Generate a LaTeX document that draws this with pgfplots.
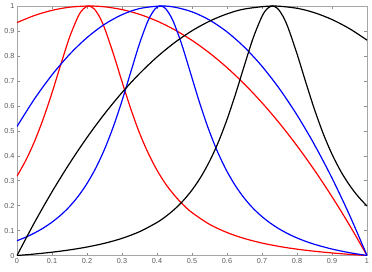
\documentclass[border=0pt]{standalone}
\usepackage{fontspec}
\setmainfont{Liberation Sans}
\usepackage{pgfplots}
\pgfplotsset{compat=1.18}
\begin{document}
\begin{tikzpicture}
\begin{axis}[
  name=ax,
  scale only axis,
  width=350bp, height=249.5bp,
  xmin=0, xmax=1, ymin=0, ymax=1,
  xtick={0,0.1,...,1}, ytick={0,0.1,...,1},
  tick align=inside,
  major tick length=3bp,
  axis line style={black!35, line width=0.5pt},
  every tick/.style={black!45, line width=0.4pt},
  tick label style={font=\fontsize{7.3}{8}\selectfont, text=black!65},
  /pgf/number format/assume math mode=true,
  xticklabel style={yshift=1bp},
  yticklabel style={xshift=1bp},
  clip=true,
  every axis plot/.append style={line width=1.2pt, smooth},
]
% red wide
\addplot[color=red] coordinates {
(0,0.9335)(0.05,0.962)(0.1,0.9826)(0.15,0.9952)(0.205,1)(0.25,0.9968)(0.3,0.9857)(0.35,0.9667)(0.4,0.9398)(0.45,0.905)(0.5,0.8623)(0.55,0.8117)(0.6,0.7531)(0.65,0.6867)(0.7,0.6123)(0.75,0.53)(0.8,0.4398)(0.85,0.3417)(0.9,0.2357)(0.95,0.1218)(1,0)};
% red narrow
\addplot[color=red] coordinates {
(0,0.318)(0.025,0.381)(0.05,0.457)(0.075,0.548)(0.1,0.652)(0.125,0.765)(0.15,0.874)(0.175,0.959)(0.19,0.989)(0.205,1)(0.22,0.989)(0.235,0.959)(0.25,0.912)(0.275,0.810)(0.3,0.697)(0.325,0.588)(0.35,0.491)(0.375,0.410)(0.4,0.342)(0.425,0.286)(0.45,0.241)(0.475,0.203)(0.5,0.172)(0.55,0.125)(0.6,0.0921)(0.65,0.0679)(0.7,0.0499)(0.75,0.0361)(0.8,0.0254)(0.85,0.0170)(0.9,0.0102)(0.95,0.0046)(1,0)};
% blue wide
\addplot[color=blue] coordinates {
(0,0.5171)(0.05,0.6277)(0.1,0.7239)(0.15,0.8058)(0.2,0.8733)(0.25,0.9265)(0.3,0.9652)(0.35,0.9897)(0.41,1)(0.45,0.9954)(0.5,0.9767)(0.55,0.9437)(0.6,0.8963)(0.65,0.8345)(0.7,0.7584)(0.75,0.6679)(0.8,0.5631)(0.85,0.4438)(0.9,0.3103)(0.95,0.1623)(1,0)};
% blue narrow
\addplot[color=blue] coordinates {
(0,0.0592)(0.025,0.0734)(0.05,0.0902)(0.075,0.110)(0.1,0.1336)(0.125,0.1619)(0.15,0.196)(0.175,0.2377)(0.2,0.2884)(0.225,0.3503)(0.25,0.4254)(0.275,0.5155)(0.3,0.620)(0.325,0.735)(0.35,0.849)(0.375,0.943)(0.395,0.989)(0.41,1)(0.425,0.989)(0.445,0.943)(0.47,0.849)(0.495,0.735)(0.52,0.620)(0.545,0.5155)(0.57,0.4254)(0.595,0.3503)(0.62,0.2884)(0.645,0.2377)(0.67,0.196)(0.695,0.1619)(0.72,0.1336)(0.745,0.110)(0.77,0.0902)(0.795,0.0734)(0.82,0.0592)(0.85,0.0448)(0.9,0.0258)(0.95,0.0113)(1,0)};
% black wide
\addplot[color=black] coordinates {
(0,0)(0.05,0.1323)(0.1,0.2552)(0.15,0.3687)(0.2,0.4729)(0.25,0.5676)(0.3,0.653)(0.35,0.729)(0.4,0.7956)(0.45,0.8529)(0.5,0.9007)(0.55,0.9392)(0.6,0.9683)(0.65,0.988)(0.73,1)(0.8,0.9908)(0.85,0.973)(0.9,0.9458)(0.95,0.9092)(1,0.8632)};
% black narrow
\addplot[color=black] coordinates {
(0,0)(0.025,0.0028)(0.05,0.0059)(0.1,0.0132)(0.15,0.0224)(0.2,0.034)(0.25,0.0489)(0.3,0.0687)(0.35,0.0954)(0.4,0.1324)(0.425,0.1564)(0.45,0.1852)(0.475,0.220)(0.5,0.2624)(0.525,0.314)(0.55,0.3772)(0.575,0.4536)(0.6,0.5449)(0.625,0.6499)(0.65,0.7633)(0.675,0.8728)(0.7,0.9586)(0.715,0.9894)(0.73,1)(0.745,0.9894)(0.76,0.9586)(0.775,0.9113)(0.8,0.8085)(0.825,0.6947)(0.85,0.5853)(0.875,0.4882)(0.9,0.406)(0.925,0.3377)(0.95,0.2819)(0.975,0.236)(1,0.1983)};
\end{axis}
\pgfresetboundingbox
\path ([xshift=-17bp,yshift=-16.5bp]ax.south west) rectangle ([xshift=5bp,yshift=6bp]ax.north east);
\end{tikzpicture}
\end{document}
